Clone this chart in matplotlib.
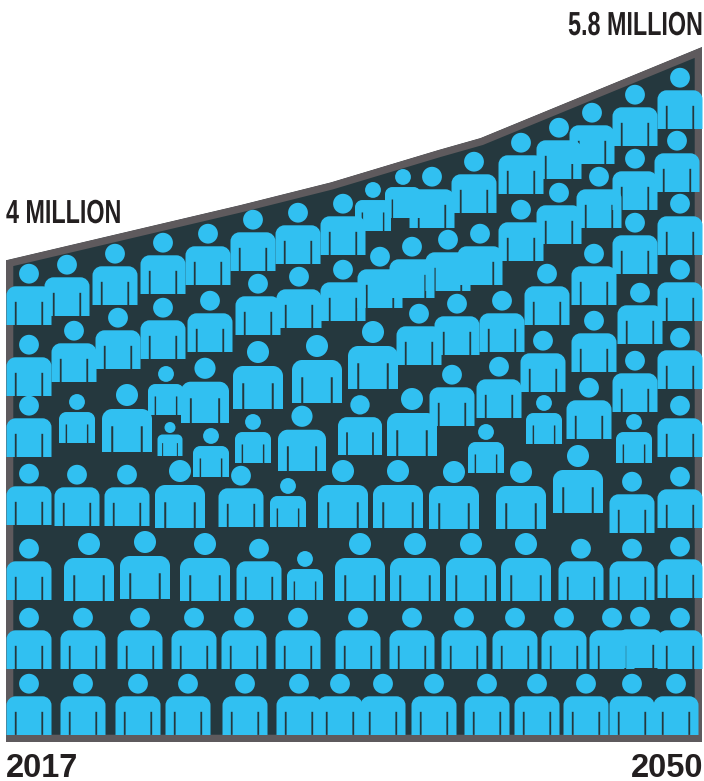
import numpy as np
import matplotlib
matplotlib.use("Agg")
import matplotlib.pyplot as plt
import matplotlib.patheffects as pe
from matplotlib.path import Path
from matplotlib.patches import PathPatch
from matplotlib.transforms import Affine2D

# population curve
years = [2017, 2028.1, 2032.4, 2037.5, 2039.5, 2050]
millions = [4.02, 4.48, 4.67, 4.94, 5.04, 5.8]

# people icons: centre x, feet y, body width (pixels)
people_x = [29, 83, 138, 188, 245, 299, 340, 383, 434, 487, 537, 586, 632, 676,
            29, 83, 140, 194, 244, 298, 358, 412, 464, 515, 564, 612, 640, 680,
            29, 89, 145, 205, 259, 305, 360, 415, 471, 526, 581, 632, 680,
            29, 77, 127, 180, 241, 288, 343, 398, 454, 521, 578, 632, 680,
            29, 77, 127, 170, 211, 253, 302, 360, 412, 486, 544, 589, 634, 680,
            166, 205, 258, 317, 373, 419, 452, 499,
            29, 74, 118, 163, 210, 457, 502, 543, 594, 635, 680,
            29, 67, 115, 163, 208, 258, 299, 343, 380, 412, 448, 480, 547, 594, 640, 680,
            253, 298, 343, 373, 403, 432, 474, 521, 559, 599, 635, 680,
            521, 559, 592, 635, 635, 677, 680]
people_base = [735, 735, 735, 735, 735, 735, 735, 735, 735, 735, 735, 735, 735, 735,
               669, 669, 669, 669, 669, 669, 669, 669, 669, 669, 669, 669, 668, 669,
               600, 601, 599, 601, 600, 600, 601, 601, 601, 601, 600, 600, 598,
               525, 526, 526, 528, 527, 527, 528, 528, 529, 529, 513, 533, 528,
               457, 443, 452, 456, 477, 463, 471, 455, 456, 473, 444, 439, 463, 457,
               415, 423, 409, 403, 389, 365, 426, 418,
               396, 382, 369, 359, 352, 355, 352, 392, 372, 412, 389,
               325, 316, 305, 294, 285, 335, 328, 321, 308, 298, 291, 285, 325, 305, 344, 321,
               271, 264, 255, 231, 218, 228, 213, 261, 244, 228, 274, 255,
               194, 179, 164, 146, 210, 192, 129]
people_w = [45, 45, 45, 45, 45, 45, 45, 45, 45, 45, 45, 45, 45, 45,
            45, 45, 45, 45, 45, 45, 45, 45, 45, 45, 45, 45, 45, 45,
            45, 50, 50, 50, 45, 36, 50, 50, 50, 50, 45, 45, 45,
            45, 45, 45, 50, 45, 36, 50, 50, 50, 50, 50, 45, 45,
            45, 36, 50, 25, 36, 36, 48, 44, 50, 36, 36, 45, 36, 45,
            36, 48, 50, 50, 50, 45, 45, 45,
            45, 45, 45, 45, 45, 45, 45, 45, 45, 45, 45,
            45, 45, 45, 45, 45, 45, 45, 45, 45, 45, 45, 45, 45, 45, 45, 45,
            45, 45, 45, 36, 36, 45, 45, 45, 45, 45, 45, 45,
            45, 45, 45, 45, 45, 45, 45]

label_start = "4 MILLION"
label_end = "5.8 MILLION"
year_start = "2017"
year_end = "2050"

CYAN = "#31c0f1"
DARK = "#25383e"
GREY = "#5e5a5d"
INK = "#231f20"


class Squeeze(pe.AbstractPathEffect):
    # no condensed font here, so narrow the glyphs about the text anchor
    def __init__(self, sx, x0):
        super().__init__()
        self.sx = sx
        self.x0 = x0

    def draw_path(self, renderer, gc, tpath, affine, rgbFace=None):
        squeeze = Affine2D().translate(-self.x0, 0).scale(self.sx, 1).translate(self.x0, 0)
        renderer.draw_path(gc, tpath, affine + squeeze, rgbFace)


def person_path():
    # unit icon, width 1, feet on y=0, with the two arm slits cut out
    s0, s1, top, r, h = 0.185, 0.225, 0.515, 0.2, 0.86
    k = r * 0.45
    verts = [(0, 0), (s0, 0), (s0, top), (s1, top), (s1, 0),
             (1 - s1, 0), (1 - s1, top), (1 - s0, top), (1 - s0, 0), (1, 0),
             (1, h - r), (1, h - k), (1 - k, h), (1 - r, h),
             (r, h), (k, h), (0, h - k), (0, h - r), (0, 0)]
    codes = [Path.MOVETO] + [Path.LINETO] * 10 + [Path.CURVE4] * 3 + [Path.LINETO] + \
            [Path.CURVE4] * 3 + [Path.CLOSEPOLY]
    body = Path(verts, codes)
    head = Path.circle((0.5, 1.14), 0.22)
    return Path.make_compound_path(body, head)


fig = plt.figure(figsize=(7.04, 7.81), dpi=100)
fig.patch.set_facecolor("white")

# area: real scale, years against millions
ax = fig.add_axes([6 / 704, (781 - 742) / 781, 696 / 704, 695 / 781])
ax.set_xlim(2017, 2050)
ax.set_ylim(0, 5.8)
ax.axis("off")
xs = [years[0]] + years + [years[-1]]
ys = [0] + millions + [0]
area = ax.fill(xs, ys, facecolor=DARK, edgecolor=GREY, linewidth=10.5, joinstyle="miter")[0]
area.set_clip_path(area)

# people and labels sit on a picture-sized overlay
over = fig.add_axes([0, 0, 1, 1], zorder=2)
over.set_xlim(0, 704)
over.set_ylim(781, 0)
over.axis("off")
over.patch.set_alpha(0)

icon = person_path()
for x, base, w in zip(people_x, people_base, people_w):
    v = icon.vertices * np.array([w, -w]) + np.array([x - w / 2, base])
    over.add_patch(PathPatch(Path(v, icon.codes), facecolor=CYAN, edgecolor="none"))

font = ["Liberation Sans", "DejaVu Sans"]
t1 = over.text(6, 223, label_start, ha="left", va="baseline", family=font, weight="bold", fontsize=24, color=INK)
t1.set_path_effects([Squeeze(0.70, 6)])
t2 = over.text(703, 35, label_end, ha="right", va="baseline", family=font, weight="bold", fontsize=24, color=INK)
t2.set_path_effects([Squeeze(0.70, 703)])
over.text(6, 777, year_start, ha="left", va="baseline", family=font, weight="bold", fontsize=23.5, color=INK)
over.text(703, 777, year_end, ha="right", va="baseline", family=font, weight="bold", fontsize=23.5, color=INK)

fig.savefig("out.png", dpi=100)
